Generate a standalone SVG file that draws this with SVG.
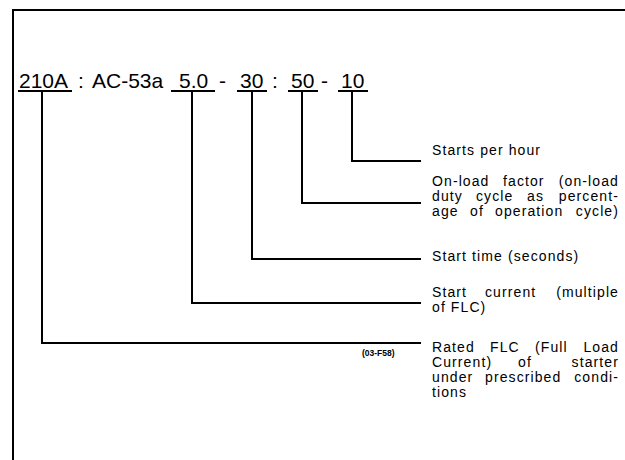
<svg xmlns="http://www.w3.org/2000/svg" width="625" height="460" viewBox="0 0 625 460">
<style>
.main{font-family:"Liberation Sans",Arial,sans-serif;font-size:21px;fill:#000}
.lbl{font-family:"Liberation Sans",Arial,sans-serif;font-size:14px;fill:#000;letter-spacing:1.1px}
.end{text-anchor:end}
.small{font-family:"Liberation Sans",Arial,sans-serif;font-size:8.5px;font-weight:bold;fill:#000}
.ln{stroke:#000;stroke-width:2;fill:none}
.frame{stroke:#000;stroke-width:2;fill:none}
</style>
<rect width="625" height="460" fill="#fff"/>
<path class="frame" d="M13,460 V10 H625"/>
<g id="code">
<text class="main" y="88"><tspan x="19">210A</tspan><tspan x="78">:</tspan><tspan x="92">AC-53a</tspan><tspan x="179">5.0</tspan><tspan x="219">-</tspan><tspan x="240">30</tspan><tspan x="272">:</tspan><tspan x="291">50</tspan><tspan x="321">-</tspan><tspan x="341">10</tspan></text>
<g class="ln">
<line x1="18" y1="91" x2="72" y2="91"/>
<line x1="171" y1="91" x2="215" y2="91"/>
<line x1="237" y1="91" x2="267" y2="91"/>
<line x1="288" y1="91" x2="318" y2="91"/>
<line x1="338" y1="91" x2="368" y2="91"/>
</g>
</g>
<g id="connectors" class="ln">
<path d="M352,91 V161 H421"/>
<path d="M302,91 V203 H421"/>
<path d="M252,91 V259 H421"/>
<path d="M192,91 V303 H421"/>
<path d="M42,91 V343 H421"/>
</g>
<g id="n-starts"><text class="lbl" x="432" y="155">Starts per hour</text></g>
<g id="n-onload">
<text class="lbl" y="186"><tspan x="432">On-load</tspan><tspan x="503">factor</tspan></text><text class="lbl end" x="619" y="186">(on-load</text>
<text class="lbl" y="201"><tspan x="432">duty</tspan><tspan x="476">cycle</tspan><tspan x="527">as</tspan></text><text class="lbl end" x="619" y="201">percent-</text>
<text class="lbl" y="216"><tspan x="432">age</tspan><tspan x="470">of</tspan><tspan x="495">operation</tspan></text><text class="lbl end" x="619" y="216">cycle)</text>
</g>
<g id="n-starttime"><text class="lbl" x="432" y="261">Start time (seconds)</text></g>
<g id="n-startcurrent">
<text class="lbl" y="297"><tspan x="432">Start</tspan><tspan x="485">current</tspan></text><text class="lbl end" x="619" y="297">(multiple</text>
<text class="lbl" x="432" y="312">of FLC)</text>
</g>
<g id="n-rated">
<text class="lbl" y="352"><tspan x="432">Rated</tspan><tspan x="490">FLC</tspan><tspan x="535">(Full</tspan></text><text class="lbl end" x="619" y="352">Load</text>
<text class="lbl" y="367"><tspan x="432">Current)</tspan><tspan x="518">of</tspan></text><text class="lbl end" x="619" y="367">starter</text>
<text class="lbl" y="382"><tspan x="432">under</tspan><tspan x="485">prescribed</tspan></text><text class="lbl end" x="619" y="382">condi-</text>
<text class="lbl" x="432" y="397">tions</text>
</g>
<text class="small" x="362" y="356">(03-F58)</text>
</svg>
